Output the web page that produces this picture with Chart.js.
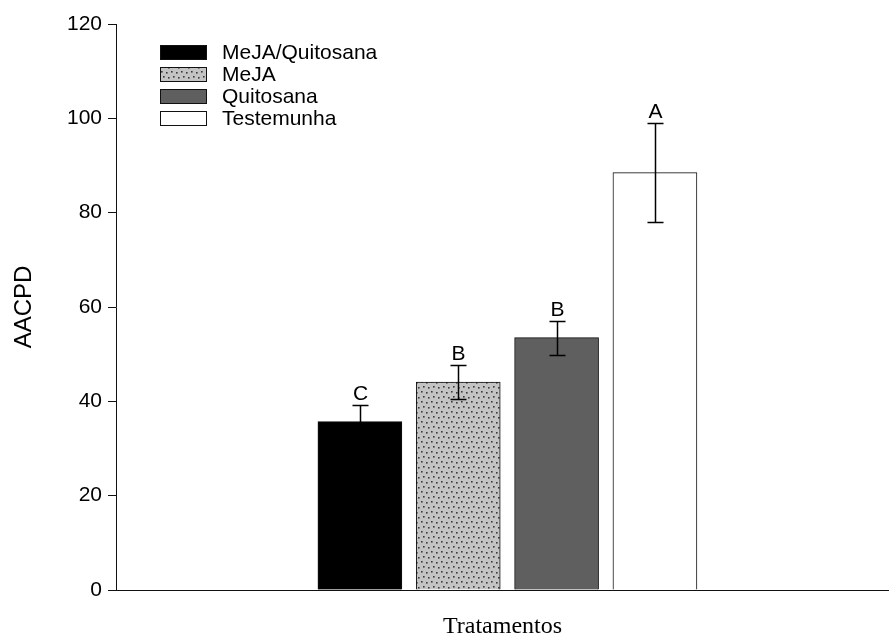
<!DOCTYPE html>
<html>
<head>
<meta charset="utf-8">
<script src="https://cdn.jsdelivr.net/npm/chart.js@4/dist/chart.umd.min.js"></script>
<style>
  html, body { margin: 0; padding: 0; background: #fff; }
  #wrap { width: 889px; height: 641px; position: relative; }
</style>
</head>
<body>
<div id="wrap"><canvas id="c" width="889" height="641"></canvas></div>
<script>
// ---- data ----
const treatments = ['MeJA/Quitosana', 'MeJA', 'Quitosana', 'Testemunha'];
const positions = [1, 2, 3, 4];
const aacpd = [35.7, 44.1, 53.5, 88.5];
const errors = [3.6, 3.7, 3.6, 10.5];
const letters = ['C', 'B', 'B', 'A'];
const yTicks = [0, 20, 40, 60, 80, 100, 120];

// dotted pattern for MeJA
function dotPattern() {
  const t = document.createElement('canvas');
  t.width = 10; t.height = 10;
  const g = t.getContext('2d');
  g.fillStyle = '#c4c4c4';
  g.fillRect(0, 0, 10, 10);
  g.fillStyle = '#3a3a3a';
  [[1,1],[6,2],[3,6],[8,7]].forEach(p => g.fillRect(p[0], p[1], 1.6, 1.6));
  return g.createPattern(t, 'repeat');
}
const fills = ['#000000', dotPattern(), '#5f5f5f', '#ffffff'];

const datasets = treatments.map((name, i) => ({
  label: name,
  data: [{ x: positions[i], y: aacpd[i] }],
  backgroundColor: fills[i],
  borderColor: '#111',
  borderWidth: 1,
  barThickness: 84
}));

const extras = {
  id: 'extras',
  afterDatasetsDraw(chart) {
    const ctx = chart.ctx;
    const ys = chart.scales.y;
    ctx.save();
    chart.data.datasets.forEach((ds, i) => {
      const el = chart.getDatasetMeta(i).data[0];
      const x = Math.round(el.x) + 0.5;
      const hi = Math.round(ys.getPixelForValue(aacpd[i] + errors[i])) + 0.5;
      const lo = Math.round(ys.getPixelForValue(aacpd[i] - errors[i])) + 0.5;
      ctx.strokeStyle = '#000';
      ctx.lineWidth = 1.5;
      ctx.beginPath();
      ctx.moveTo(x, hi); ctx.lineTo(x, lo);
      ctx.moveTo(x - 8, hi); ctx.lineTo(x + 8, hi);
      ctx.moveTo(x - 8, lo); ctx.lineTo(x + 8, lo);
      ctx.stroke();
      ctx.fillStyle = '#000';
      ctx.font = '21px "Liberation Sans", Arial, sans-serif';
      ctx.textAlign = 'center';
      ctx.textBaseline = 'alphabetic';
      ctx.fillText(letters[i], x, hi - 6);
    });
    // legend
    const bx = 160, by0 = 45, bw = 47, bh = 15, step = 22;
    chart.data.datasets.forEach((ds, i) => {
      const y = by0 + i * step;
      ctx.fillStyle = ds.backgroundColor;
      ctx.fillRect(bx, y, bw, bh);
      ctx.strokeStyle = '#111';
      ctx.lineWidth = 1;
      ctx.strokeRect(bx + 0.5, y + 0.5, bw - 1, bh - 1);
      ctx.fillStyle = '#000';
      ctx.font = '21px "Liberation Sans", Arial, sans-serif';
      ctx.textAlign = 'left';
      ctx.textBaseline = 'middle';
      ctx.fillText(ds.label, 222, y + bh / 2 + 1);
    });
    ctx.restore();
  }
};

new Chart(document.getElementById('c'), {
  type: 'bar',
  data: { datasets },
  options: {
    responsive: false,
    animation: false,
    devicePixelRatio: 1,
    grouped: false,
    layout: { padding: { top: 24, right: 0, bottom: 0, left: 0 } },
    plugins: { legend: { display: false }, tooltip: { enabled: false } },
    scales: {
      x: {
        type: 'linear',
        min: -1.48,
        max: 6.38,
        offset: false,
        grid: { display: false },
        border: { display: true, color: '#111', width: 1 },
        ticks: { display: false },
        title: {
          display: true,
          text: 'Tratamentos',
          color: '#000',
          font: { family: '"Liberation Serif", "Times New Roman", serif', size: 24 },
          padding: 0
        },
        afterFit(s) { s.height = 51; }
      },
      y: {
        min: 0,
        max: 120,
        afterBuildTicks(s) { s.ticks = yTicks.map(v => ({ value: v })); },
        grid: { drawOnChartArea: false, drawTicks: true, tickLength: 8, tickColor: '#111', color: '#111' },
        border: { display: true, color: '#111', width: 1 },
        ticks: {
          color: '#000',
          padding: 6,
          font: { family: '"Liberation Sans", Arial, sans-serif', size: 21 }
        },
        title: {
          display: true,
          text: 'AACPD',
          color: '#000',
          font: { family: '"Liberation Sans", Arial, sans-serif', size: 24 },
          padding: { top: 10, bottom: 0 }
        },
        afterFit(s) { s.width = 116; }
      }
    }
  },
  plugins: [extras]
});
</script>
</body>
</html>
